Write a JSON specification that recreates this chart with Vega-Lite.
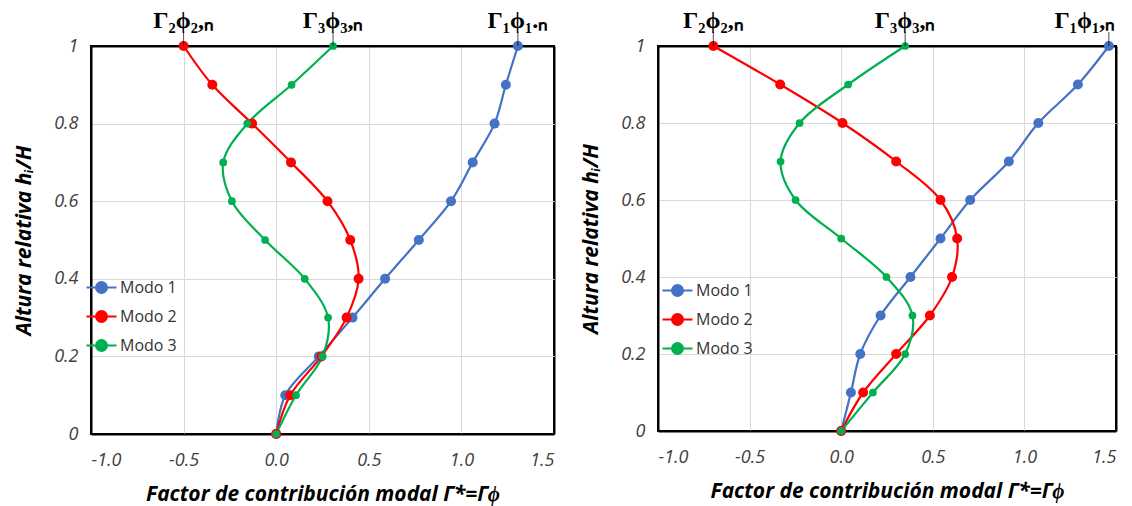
{
  "$schema": "https://vega.github.io/schema/vega-lite/v6.json",
  "background": "white",
  "padding": {"left": 12, "top": 8, "right": 5, "bottom": 2},
  "spacing": 24,
  "datasets": {
    "left": [
      {"modo": "Modo 1", "y": 0, "x": 0}, {"modo": "Modo 1", "y": 0.1, "x": 0.049}, {"modo": "Modo 1", "y": 0.2, "x": 0.23}, {"modo": "Modo 1", "y": 0.3, "x": 0.412}, {"modo": "Modo 1", "y": 0.4, "x": 0.588}, {"modo": "Modo 1", "y": 0.5, "x": 0.77}, {"modo": "Modo 1", "y": 0.6, "x": 0.944}, {"modo": "Modo 1", "y": 0.7, "x": 1.061}, {"modo": "Modo 1", "y": 0.8, "x": 1.179}, {"modo": "Modo 1", "y": 0.9, "x": 1.24}, {"modo": "Modo 1", "y": 1.0, "x": 1.305},
      {"modo": "Modo 2", "y": 0, "x": 0}, {"modo": "Modo 2", "y": 0.1, "x": 0.076}, {"modo": "Modo 2", "y": 0.2, "x": 0.244}, {"modo": "Modo 2", "y": 0.3, "x": 0.38}, {"modo": "Modo 2", "y": 0.4, "x": 0.445}, {"modo": "Modo 2", "y": 0.5, "x": 0.40}, {"modo": "Modo 2", "y": 0.6, "x": 0.277}, {"modo": "Modo 2", "y": 0.7, "x": 0.08}, {"modo": "Modo 2", "y": 0.8, "x": -0.13}, {"modo": "Modo 2", "y": 0.9, "x": -0.345}, {"modo": "Modo 2", "y": 1.0, "x": -0.50},
      {"modo": "Modo 3", "y": 0, "x": 0}, {"modo": "Modo 3", "y": 0.1, "x": 0.107}, {"modo": "Modo 3", "y": 0.2, "x": 0.25}, {"modo": "Modo 3", "y": 0.3, "x": 0.28}, {"modo": "Modo 3", "y": 0.4, "x": 0.154}, {"modo": "Modo 3", "y": 0.5, "x": -0.06}, {"modo": "Modo 3", "y": 0.6, "x": -0.239}, {"modo": "Modo 3", "y": 0.7, "x": -0.286}, {"modo": "Modo 3", "y": 0.8, "x": -0.156}, {"modo": "Modo 3", "y": 0.9, "x": 0.083}, {"modo": "Modo 3", "y": 1.0, "x": 0.307}
    ],
    "right": [
      {"modo": "Modo 1", "y": 0, "x": 0}, {"modo": "Modo 1", "y": 0.1, "x": 0.053}, {"modo": "Modo 1", "y": 0.2, "x": 0.104}, {"modo": "Modo 1", "y": 0.3, "x": 0.215}, {"modo": "Modo 1", "y": 0.4, "x": 0.378}, {"modo": "Modo 1", "y": 0.5, "x": 0.542}, {"modo": "Modo 1", "y": 0.6, "x": 0.704}, {"modo": "Modo 1", "y": 0.7, "x": 0.915}, {"modo": "Modo 1", "y": 0.8, "x": 1.076}, {"modo": "Modo 1", "y": 0.9, "x": 1.292}, {"modo": "Modo 1", "y": 1.0, "x": 1.461},
      {"modo": "Modo 2", "y": 0, "x": 0}, {"modo": "Modo 2", "y": 0.1, "x": 0.12}, {"modo": "Modo 2", "y": 0.2, "x": 0.30}, {"modo": "Modo 2", "y": 0.3, "x": 0.484}, {"modo": "Modo 2", "y": 0.4, "x": 0.605}, {"modo": "Modo 2", "y": 0.5, "x": 0.633}, {"modo": "Modo 2", "y": 0.6, "x": 0.542}, {"modo": "Modo 2", "y": 0.7, "x": 0.30}, {"modo": "Modo 2", "y": 0.8, "x": 0.007}, {"modo": "Modo 2", "y": 0.9, "x": -0.333}, {"modo": "Modo 2", "y": 1.0, "x": -0.698},
      {"modo": "Modo 3", "y": 0, "x": 0}, {"modo": "Modo 3", "y": 0.1, "x": 0.173}, {"modo": "Modo 3", "y": 0.2, "x": 0.349}, {"modo": "Modo 3", "y": 0.3, "x": 0.389}, {"modo": "Modo 3", "y": 0.4, "x": 0.247}, {"modo": "Modo 3", "y": 0.5, "x": 0.0}, {"modo": "Modo 3", "y": 0.6, "x": -0.249}, {"modo": "Modo 3", "y": 0.7, "x": -0.331}, {"modo": "Modo 3", "y": 0.8, "x": -0.227}, {"modo": "Modo 3", "y": 0.9, "x": 0.038}, {"modo": "Modo 3", "y": 1.0, "x": 0.349}
    ],
    "leftLabels": [
      {"x": -0.5, "y": 1, "label": "Γ₂ϕ₂,ₙ", "shift": "none"},
      {"x": 0.307, "y": 1, "label": "Γ₃ϕ₃,ₙ", "shift": "none"},
      {"x": 1.305, "y": 1, "label": "Γ₁ϕ₁.ₙ", "shift": "none"}
    ],
    "rightLabels": [
      {"x": -0.698, "y": 1, "label": "Γ₂ϕ₂,ₙ", "shift": "none"},
      {"x": 0.349, "y": 1, "label": "Γ₃ϕ₃,ₙ", "shift": "none"},
      {"x": 1.461, "y": 1, "label": "Γ₁ϕ₁,ₙ", "shift": "left"}
    ]
  },
  "hconcat": [
    {
      "width": 463, "height": 388,
      "encoding": {
        "x": {"field": "x", "type": "quantitative", "scale": {"domain": [-1, 1.5], "nice": false, "zero": false},
          "axis": {"values": [-1, -0.5, 0, 0.5, 1, 1.5], "labelExpr": "datum.value < 0 ? '-' + format(-datum.value, '.1f') : format(datum.value, '.1f')", "title": "Factor de contribución modal  Γ*=Γϕ", "labelPadding": 17, "titlePadding": 14,
            "gridColor": {"condition": {"test": "datum.value == 1.5", "value": "black"}, "value": "#d9d9d9"},
            "gridWidth": {"condition": {"test": "datum.value == 1.5", "value": 2}, "value": 1}}},
        "y": {"field": "y", "type": "quantitative", "scale": {"domain": [0, 1], "nice": false},
          "axis": {"values": [0, 0.2, 0.4, 0.6, 0.8, 1], "labelExpr": "datum.value == 0 ? '0' : datum.value == 1 ? '1' : format(datum.value, '.1f')", "title": "Altura relativa hᵢ/H", "labelPadding": 13, "titlePadding": 19,
            "gridColor": {"condition": {"test": "datum.value == 1", "value": "black"}, "value": "#d9d9d9"},
            "gridWidth": {"condition": {"test": "datum.value == 1", "value": 2}, "value": 1}}}
      },
      "layer": [
        {
          "data": {"name": "left"},
          "mark": {"type": "line", "interpolate": "catmull-rom", "strokeWidth": 2.2, "clip": false},
          "encoding": {
            "order": {"field": "y", "type": "quantitative"},
            "color": {"field": "modo", "type": "nominal",
              "scale": {"domain": ["Modo 1", "Modo 2", "Modo 3"], "range": ["#4472C4", "#FF0000", "#00B050"]},
              "legend": {"orient": "none", "legendX": -6, "legendY": 225, "title": null, "symbolType": "M-1,0L1,0M-0.36,0A0.36,0.36 0 1,0 0.36,0A0.36,0.36 0 1,0 -0.36,0", "symbolSize": 900, "symbolStrokeWidth": 2.2, "labelFont": "Open Sans", "labelFontSize": 16, "labelColor": "#333", "rowPadding": 2, "labelOffset": 2}}
          }
        },
        {
          "data": {"name": "left"},
          "transform": [{"filter": "datum.modo != 'Modo 3'"}],
          "mark": {"type": "point", "filled": true, "opacity": 1, "size": 100, "clip": false},
          "encoding": {"color": {"field": "modo", "type": "nominal"}}
        },
        {
          "data": {"name": "left"},
          "transform": [{"filter": "datum.modo == 'Modo 3'"}],
          "mark": {"type": "point", "filled": true, "opacity": 1, "size": 60, "clip": false},
          "encoding": {"color": {"field": "modo", "type": "nominal"}}
        },
        {
          "data": {"name": "leftLabels"},
          "mark": {"type": "tick", "orient": "vertical", "color": "black", "size": 14, "thickness": 1, "yOffset": -7, "clip": false}
        },
        {
          "data": {"name": "leftLabels"},
          "mark": {"type": "text", "font": "Liberation Serif", "fontWeight": "bold", "fontSize": 24, "baseline": "alphabetic", "align": "center", "dy": -18, "clip": false},
          "encoding": {"text": {"field": "label"}}
        }
      ]
    },
    {
      "width": 458, "height": 385,
      "encoding": {
        "x": {"field": "x", "type": "quantitative", "scale": {"domain": [-1, 1.5], "nice": false, "zero": false},
          "axis": {"values": [-1, -0.5, 0, 0.5, 1, 1.5], "labelExpr": "datum.value < 0 ? '-' + format(-datum.value, '.1f') : format(datum.value, '.1f')", "title": "Factor de contribución modal  Γ*=Γϕ", "labelPadding": 17, "titlePadding": 14,
            "gridColor": {"condition": {"test": "datum.value == 1.5", "value": "black"}, "value": "#d9d9d9"},
            "gridWidth": {"condition": {"test": "datum.value == 1.5", "value": 2}, "value": 1}}},
        "y": {"field": "y", "type": "quantitative", "scale": {"domain": [0, 1], "nice": false},
          "axis": {"values": [0, 0.2, 0.4, 0.6, 0.8, 1], "labelExpr": "datum.value == 0 ? '0' : datum.value == 1 ? '1' : format(datum.value, '.1f')", "title": "Altura relativa hᵢ/H", "labelPadding": 13, "titlePadding": 19,
            "gridColor": {"condition": {"test": "datum.value == 1", "value": "black"}, "value": "#d9d9d9"},
            "gridWidth": {"condition": {"test": "datum.value == 1", "value": 2}, "value": 1}}}
      },
      "layer": [
        {
          "data": {"name": "right"},
          "mark": {"type": "line", "interpolate": "catmull-rom", "strokeWidth": 2.2, "clip": false},
          "encoding": {
            "order": {"field": "y", "type": "quantitative"},
            "color": {"field": "modo", "type": "nominal",
              "scale": {"domain": ["Modo 1", "Modo 2", "Modo 3"], "range": ["#4472C4", "#FF0000", "#00B050"]},
              "legend": {"orient": "none", "legendX": 3, "legendY": 228, "title": null, "symbolType": "M-1,0L1,0M-0.36,0A0.36,0.36 0 1,0 0.36,0A0.36,0.36 0 1,0 -0.36,0", "symbolSize": 900, "symbolStrokeWidth": 2.2, "labelFont": "Open Sans", "labelFontSize": 16, "labelColor": "#333", "rowPadding": 2, "labelOffset": 2}}
          }
        },
        {
          "data": {"name": "right"},
          "transform": [{"filter": "datum.modo != 'Modo 3'"}],
          "mark": {"type": "point", "filled": true, "opacity": 1, "size": 100, "clip": false},
          "encoding": {"color": {"field": "modo", "type": "nominal"}}
        },
        {
          "data": {"name": "right"},
          "transform": [{"filter": "datum.modo == 'Modo 3'"}],
          "mark": {"type": "point", "filled": true, "opacity": 1, "size": 60, "clip": false},
          "encoding": {"color": {"field": "modo", "type": "nominal"}}
        },
        {
          "data": {"name": "rightLabels"},
          "mark": {"type": "tick", "orient": "vertical", "color": "black", "size": 14, "thickness": 1, "yOffset": -7, "clip": false}
        },
        {
          "data": {"name": "rightLabels"},
          "transform": [{"filter": "datum.shift == 'none'"}],
          "mark": {"type": "text", "font": "Liberation Serif", "fontWeight": "bold", "fontSize": 24, "baseline": "alphabetic", "align": "center", "dy": -18, "clip": false},
          "encoding": {"text": {"field": "label"}}
        },
        {
          "data": {"name": "rightLabels"},
          "transform": [{"filter": "datum.shift == 'left'"}],
          "mark": {"type": "text", "font": "Liberation Serif", "fontWeight": "bold", "fontSize": 24, "baseline": "alphabetic", "align": "center", "dy": -18, "dx": -24, "clip": false},
          "encoding": {"text": {"field": "label"}}
        }
      ]
    }
  ],
  "resolve": {"legend": {"color": "independent"}},
  "config": {
    "font": "Open Sans",
    "view": {"stroke": "black", "strokeWidth": 2},
    "axis": {"domain": true, "domainColor": "black", "domainWidth": 2, "ticks": false, "grid": true,
      "labelFont": "Open Sans", "labelFontStyle": "italic", "labelFontSize": 18, "labelColor": "#404040",
      "titleFont": "Open Sans", "titleFontStyle": "italic", "titleFontWeight": "bold", "titleFontSize": 21, "titleColor": "black"}
  }
}
